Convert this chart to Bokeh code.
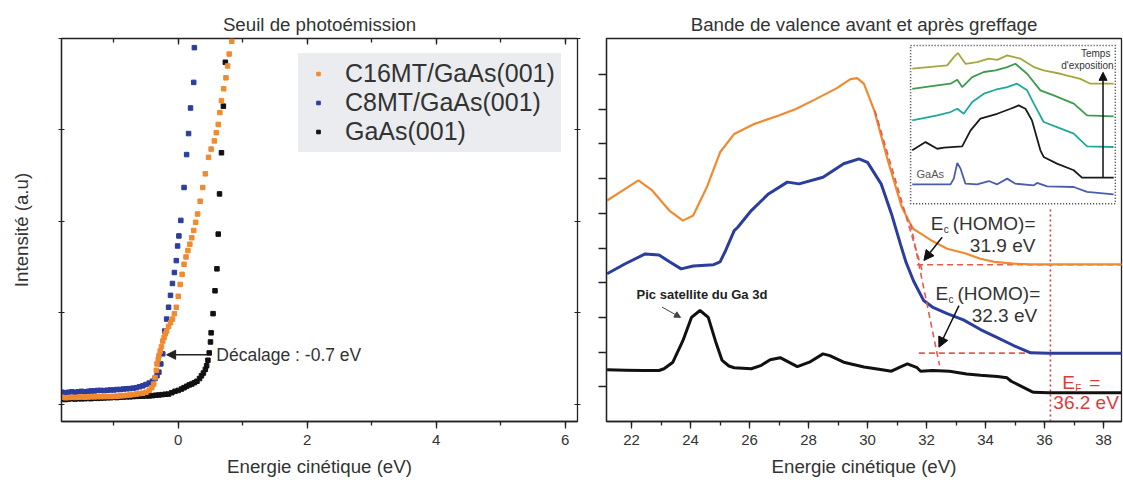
from bokeh.plotting import figure
from bokeh.layouts import row
from bokeh.models import (Range1d, LinearAxis, SingleIntervalTicker, FixedTicker, Legend,
                          LegendItem, Label, Arrow, NormalHead)
from bokeh.embed import file_html
from bokeh.resources import INLINE

FONT = "Liberation Sans"
TXT = "#333333"

# ---------------- Left panel data: photoemission threshold ----------------
gaas_x = [-1.80, -1.75, -1.70, -1.65, -1.60, -1.55, -1.50, -1.45, -1.40, -1.35, -1.30, -1.25,
          -1.20, -1.15, -1.10, -1.05, -1.00, -0.95, -0.90, -0.85, -0.80, -0.75, -0.70, -0.65,
          -0.60, -0.55, -0.50, -0.45, -0.40, -0.35, -0.30, -0.25, -0.20, -0.15, -0.10, -0.05,
          0.00, 0.05, 0.09, 0.13, 0.17, 0.21, 0.25, 0.29, 0.33, 0.36, 0.39, 0.42, 0.44, 0.46,
          0.48, 0.50, 0.51, 0.54, 0.57, 0.60, 0.62, 0.64, 0.67, 0.70, 0.73, 0.76]
gaas_y = [0.055, 0.050, 0.055, 0.060, 0.055, 0.060, 0.058, 0.060, 0.062, 0.060, 0.065, 0.063,
          0.066, 0.068, 0.070, 0.070, 0.074, 0.072, 0.076, 0.078, 0.080, 0.080, 0.083, 0.085,
          0.086, 0.088, 0.090, 0.090, 0.093, 0.097, 0.100, 0.104, 0.108, 0.110, 0.125, 0.140,
          0.150, 0.165, 0.180, 0.195, 0.210, 0.220, 0.235, 0.250, 0.280, 0.310, 0.340, 0.380,
          0.420, 0.480, 0.560, 0.680, 0.780, 0.990, 1.240, 1.480, 1.860, 2.300, 2.750, 3.260,
          3.740, 4.200]

c8_x = [-1.80, -1.75, -1.70, -1.65, -1.60, -1.55, -1.50, -1.45, -1.40, -1.35, -1.30, -1.25,
        -1.20, -1.15, -1.10, -1.05, -1.00, -0.95, -0.90, -0.85, -0.80, -0.75, -0.70, -0.65,
        -0.60, -0.55, -0.50, -0.45, -0.40, -0.36, -0.33, -0.30, -0.27, -0.24, -0.21, -0.18,
        -0.15, -0.12, -0.09, -0.06, -0.03, -0.01, 0.01, 0.04, 0.09, 0.13, 0.16, 0.19, 0.24,
        0.25, 0.29]
c8_y = [0.130, 0.125, 0.130, 0.135, 0.130, 0.135, 0.140, 0.135, 0.140, 0.145, 0.145, 0.150,
        0.150, 0.148, 0.152, 0.155, 0.155, 0.160, 0.160, 0.165, 0.168, 0.170, 0.175, 0.180,
        0.190, 0.200, 0.215, 0.230, 0.250, 0.280, 0.310, 0.350, 0.440, 0.550, 0.800, 0.930,
        1.060, 1.190, 1.320, 1.440, 1.570, 1.730, 1.840, 2.010, 2.370, 2.730, 2.960, 3.240,
        3.520, 3.900, 4.300]

c16_x = [-1.80, -1.75, -1.70, -1.65, -1.60, -1.55, -1.50, -1.45, -1.40, -1.35, -1.30, -1.25,
         -1.20, -1.15, -1.10, -1.05, -1.00, -0.95, -0.90, -0.85, -0.80, -0.75, -0.70, -0.65,
         -0.60, -0.55, -0.50, -0.45, -0.41, -0.38, -0.36, -0.34, -0.33, -0.31, -0.30, -0.28,
         -0.26, -0.24, -0.22, -0.20, -0.18, -0.15, -0.12, -0.09, -0.06, -0.03, 0.00, 0.03,
         0.06, 0.09, 0.12, 0.15, 0.18, 0.21, 0.24, 0.27, 0.30, 0.34, 0.38, 0.42, 0.47, 0.51,
         0.56, 0.59, 0.62, 0.645, 0.67, 0.705, 0.74, 0.765, 0.79, 0.83, 0.86]
c16_y = [0.075, 0.070, 0.072, 0.075, 0.073, 0.076, 0.078, 0.076, 0.078, 0.080, 0.080, 0.082,
         0.082, 0.083, 0.084, 0.084, 0.085, 0.087, 0.090, 0.093, 0.096, 0.100, 0.105, 0.110,
         0.115, 0.120, 0.130, 0.150, 0.180, 0.220, 0.290, 0.370, 0.440, 0.490, 0.530, 0.580,
         0.630, 0.690, 0.730, 0.770, 0.800, 0.850, 0.890, 0.930, 0.990, 1.060, 1.180, 1.310,
         1.420, 1.530, 1.610, 1.680, 1.750, 1.820, 1.900, 1.990, 2.080, 2.220, 2.370, 2.520,
         2.700, 2.790, 2.880, 2.970, 3.060, 3.190, 3.320, 3.450, 3.570, 3.700, 3.830, 3.970,
         4.100]

left_yticks = [0, 1, 2, 3, 4]
shift_arrow = dict(x_start=0.45, x_end=-0.18, y=0.54)
shift_text = dict(x=0.59, y=0.54, text="Décalage : -0.7 eV")

# ---------------- Right panel data: valence band ----------------
black_x = [21.17, 21.8, 22.4, 22.93, 23.1, 23.4, 23.74, 24.03, 24.32, 24.6, 24.84, 25.07, 25.3,
           25.48, 26.06, 26.4, 26.7, 27.04, 27.33, 27.62, 28.03, 28.49, 28.72, 29.19, 29.88,
           30.44, 30.81, 31.1, 31.35, 31.68, 31.8, 32.2, 32.78, 33.36, 33.83, 34.4, 34.73,
           34.87, 35.2, 35.57, 35.63, 36.14, 38.65]
black_y = [1.49, 1.48, 1.47, 1.47, 1.52, 1.71, 2.33, 3.0, 3.2, 3.0, 2.33, 1.76, 1.6,
           1.55, 1.52, 1.62, 1.78, 1.84, 1.71, 1.58, 1.71, 1.95, 1.9, 1.71, 1.57,
           1.5, 1.45, 1.57, 1.66, 1.55, 1.45, 1.47, 1.45, 1.37, 1.33, 1.3, 1.26,
           1.16, 1.02, 0.86, 0.84, 0.83, 0.83]

blue_x = [21.17, 21.77, 22.46, 22.93, 23.3, 23.68, 24.09, 24.78, 25.0, 25.19, 25.48, 25.6,
          26.06, 26.64, 27.28, 27.68, 28.49, 29.19, 29.71, 30.0, 30.46, 30.81, 31.12, 31.3,
          31.56, 31.9, 32.2, 32.7, 33.25, 33.83, 34.4, 34.95, 35.53, 36.14, 38.65]
blue_y = [4.26, 4.54, 4.83, 4.8, 4.6, 4.4, 4.48, 4.52, 4.6, 4.93, 5.5, 5.6,
          6.08, 6.56, 6.9, 6.85, 7.04, 7.43, 7.57, 7.47, 6.85, 5.99, 5.1, 4.6,
          4.05, 3.49, 3.3, 3.11, 2.93, 2.65, 2.42, 2.19, 1.98, 1.97, 1.97]

orange_x = [21.17, 21.77, 22.23, 22.7, 23.28, 23.74, 24.09, 24.55, 25.0, 25.48, 26.17, 26.99,
            27.57, 28.26, 28.96, 29.42, 29.65, 29.88, 30.23, 30.69, 31.16, 31.45, 31.56, 31.74,
            32.2, 32.7, 33.3, 33.83, 34.3, 34.95, 35.5, 38.65]
orange_y = [6.37, 6.7, 6.95, 6.66, 6.08, 5.79, 5.94, 6.75, 7.76, 8.29, 8.58, 8.82,
            9.01, 9.3, 9.61, 9.87, 9.9, 9.73, 8.96, 7.52, 6.18, 5.7, 5.55, 5.45,
            5.2, 4.98, 4.85, 4.69, 4.6, 4.55, 4.53, 4.53]

# tangents / baselines used to determine E_c(HOMO)
tan_c16_x = [30.25, 31.88]
tan_c16_y = [8.96, 4.27]
tan_c8_x = [31.46, 32.44]
tan_c8_y = [5.7, 1.62]
base_c16_x = [31.68, 38.61]
base_c16_y = [4.52, 4.52]
base_c8_x = [31.74, 38.61]
base_c8_y = [1.97, 1.97]
fermi_x = [36.2, 36.2]
fermi_y = [0.0, 6.17]
right_yticks = [1, 2, 3, 4, 5, 6, 7, 8, 9, 10]

# inset (exposure time series), normalised coordinates inside the inset box
ins_gaas_u = [0.008, 0.195, 0.211, 0.228, 0.244, 0.268, 0.325, 0.382, 0.423, 0.472, 0.512,
              0.602, 0.618, 0.667, 0.797, 0.862, 0.992]
ins_gaas_v = [0.122, 0.122, 0.158, 0.257, 0.221, 0.126, 0.122, 0.143, 0.122, 0.158, 0.126,
              0.116, 0.131, 0.109, 0.105, 0.074, 0.059]
ins_black_u = [0.008, 0.073, 0.130, 0.163, 0.252, 0.293, 0.341, 0.423, 0.488, 0.528, 0.561,
               0.593, 0.634, 0.650, 0.715, 0.797, 0.837, 0.992]
ins_black_v = [0.337, 0.389, 0.347, 0.354, 0.362, 0.463, 0.537, 0.568, 0.600, 0.621, 0.600,
               0.526, 0.337, 0.295, 0.253, 0.211, 0.164, 0.164]
ins_teal_u = [0.008, 0.130, 0.195, 0.228, 0.260, 0.301, 0.358, 0.415, 0.472, 0.520, 0.569,
              0.602, 0.650, 0.715, 0.797, 0.862, 0.992]
ins_teal_v = [0.526, 0.558, 0.579, 0.600, 0.568, 0.642, 0.695, 0.720, 0.737, 0.758, 0.716,
              0.632, 0.516, 0.484, 0.442, 0.362, 0.358]
ins_green_u = [0.008, 0.130, 0.195, 0.228, 0.252, 0.301, 0.358, 0.415, 0.472, 0.512, 0.569,
               0.634, 0.699, 0.797, 0.862, 0.992]
ins_green_v = [0.726, 0.747, 0.758, 0.783, 0.737, 0.800, 0.832, 0.842, 0.863, 0.884, 0.821,
               0.716, 0.684, 0.632, 0.558, 0.552]
ins_olive_u = [0.008, 0.179, 0.211, 0.231, 0.268, 0.325, 0.382, 0.423, 0.472, 0.537, 0.602,
               0.650, 0.732, 0.829, 0.878, 0.992]
ins_olive_v = [0.853, 0.874, 0.926, 0.952, 0.884, 0.895, 0.916, 0.909, 0.937, 0.916, 0.863,
               0.842, 0.821, 0.789, 0.758, 0.758]

# ---------------- layout constants ----------------
LX = (-1.81, 6.19)
LY = (-0.19, 4.0)
RX = (21.15, 38.61)
RY = (0.0, 11.04)
INSET = (31.46, 38.40, 6.28, 10.84)   # box of the inset in right-panel data units

ORANGE = "#f08a30"
BLUE = "#2b3d9d"
BLACK = "#111111"
RED_DASH = "#e8594d"
RED = "#de3b3b"
LEGEND_BG = "#eaecef"


def hide_labels(ax):
    ax.major_label_text_color = None
    ax.major_label_text_font_size = "0px"
    ax.major_label_standoff = 0


def style_common(p):
    p.grid.visible = False
    p.outline_line_color = "#222222"
    p.outline_line_width = 1.3
    p.background_fill_color = "white"
    p.border_fill_color = "white"
    p.title.align = "center"
    p.title.text_font = FONT
    p.title.text_font_size = "18.7px"
    p.title.text_font_style = "normal"
    p.title.text_color = TXT
    p.title.standoff = 8
    for ax in p.xaxis:
        ax.axis_label_text_font = FONT
        ax.axis_label_text_font_size = "18.7px"
        ax.axis_label_text_font_style = "normal"
        ax.axis_label_text_color = TXT
        ax.major_label_text_font = FONT
        ax.major_label_text_font_size = "15px"
        ax.major_label_text_color = TXT
        ax.axis_line_color = "#222222"
        ax.axis_line_width = 1.3
        ax.major_tick_line_color = "#222222"
        ax.minor_tick_line_color = "#222222"
        ax.major_tick_line_width = 1.3
        ax.minor_tick_line_width = 1.3
        ax.major_tick_in = 0
        ax.major_tick_out = 7
        ax.minor_tick_in = 0
        ax.minor_tick_out = 4
        ax.major_label_standoff = 6
        ax.axis_label_standoff = 8
        ax.ticker = SingleIntervalTicker(interval=2, num_minor_ticks=2)


# ================= Left figure =================
p1 = figure(width=594, height=484, output_backend="svg", toolbar_location=None,
            x_range=Range1d(*LX), y_range=Range1d(*LY),
            min_border_left=61, min_border_right=17, min_border_top=38, min_border_bottom=63,
            title="Seuil de photoémission")
p1.xaxis.axis_label = "Energie cinétique (eV)"
style_common(p1)

ya = p1.yaxis[0]
ya.ticker = FixedTicker(ticks=left_yticks)
hide_labels(ya)
ya.axis_label = "Intensité (a.u)"
ya.axis_label_text_font = FONT
ya.axis_label_text_font_size = "18.7px"
ya.axis_label_text_font_style = "normal"
ya.axis_label_text_color = TXT
ya.axis_label_standoff = 27
ya.axis_line_color = "#222222"
ya.axis_line_width = 1.3
ya.major_tick_in = 3
ya.major_tick_out = 3
ya.major_tick_line_color = "#222222"
ya.minor_tick_line_color = None

top_ax = LinearAxis(ticker=SingleIntervalTicker(interval=2, num_minor_ticks=2),
                    major_tick_in=6, major_tick_out=0, minor_tick_in=4, minor_tick_out=0,
                    axis_line_color=None, major_tick_line_color="#222222",
                    minor_tick_line_color="#222222", major_tick_line_width=1.3,
                    minor_tick_line_width=1.3)
hide_labels(top_ax)
p1.add_layout(top_ax, "above")
right_ax = LinearAxis(ticker=FixedTicker(ticks=left_yticks), major_tick_in=3, major_tick_out=3,
                      axis_line_color=None, major_tick_line_color="#222222",
                      minor_tick_line_color=None)
hide_labels(right_ax)
p1.add_layout(right_ax, "right")

r_gaas = p1.scatter(gaas_x, gaas_y, marker="square", size=4.5, color=BLACK)
r_c8 = p1.scatter(c8_x, c8_y, marker="square", size=4.5, color=BLUE)
r_c16 = p1.scatter(c16_x, c16_y, marker="square", size=4.5, color=ORANGE)

legend = Legend(items=[LegendItem(label="C16MT/GaAs(001)", renderers=[r_c16]),
                       LegendItem(label="C8MT/GaAs(001)", renderers=[r_c8]),
                       LegendItem(label="GaAs(001)", renderers=[r_gaas])],
                location=(237, 269), label_text_font=FONT, label_text_font_size="25px",
                label_text_color=TXT, background_fill_color=LEGEND_BG, background_fill_alpha=1,
                border_line_color=LEGEND_BG, border_line_width=1, padding=5, spacing=0,
                margin=0, glyph_width=28, glyph_height=9, label_standoff=13, label_height=27)
p1.add_layout(legend)

p1.add_layout(Arrow(end=NormalHead(size=9, fill_color="#222222", line_color="#222222"),
                    x_start=shift_arrow["x_start"], y_start=shift_arrow["y"],
                    x_end=shift_arrow["x_end"], y_end=shift_arrow["y"],
                    line_color="#222222", line_width=1.5))
p1.add_layout(Label(x=shift_text["x"], y=shift_text["y"], text=shift_text["text"],
                    text_font=FONT, text_font_size="17.5px", text_color=TXT,
                    text_baseline="middle", text_align="left"))

# ================= Right figure =================
p2 = figure(width=529, height=484, output_backend="svg", toolbar_location=None,
            x_range=Range1d(*RX), y_range=Range1d(*RY),
            min_border_left=12, min_border_right=2, min_border_top=38, min_border_bottom=63,
            title="Bande de valence avant et après greffage")
p2.xaxis.axis_label = "Energie cinétique (eV)"
style_common(p2)
yb = p2.yaxis[0]
yb.ticker = FixedTicker(ticks=right_yticks)
hide_labels(yb)
yb.major_tick_in = 0
yb.major_tick_out = 8
yb.major_tick_line_color = "#222222"
yb.major_tick_line_width = 1.3
yb.minor_tick_line_color = None
yb.axis_line_color = "#222222"
yb.axis_line_width = 1.3

# baselines (dashed) under the curves
p2.line(base_c16_x, base_c16_y, line_color=RED_DASH, line_dash="6 4", line_width=1.6)
p2.line(base_c8_x, base_c8_y, line_color=RED_DASH, line_dash="6 4", line_width=1.6)
p2.line(fermi_x, fermi_y, line_color=RED, line_dash="2 3", line_width=1.6)

p2.line(black_x, black_y, line_color=BLACK, line_width=3)
p2.line(blue_x, blue_y, line_color=BLUE, line_width=3)
p2.line(orange_x, orange_y, line_color=ORANGE, line_width=2.2)

p2.line(tan_c16_x, tan_c16_y, line_color=RED_DASH, line_dash="6 4", line_width=1.6)
p2.line(tan_c8_x, tan_c8_y, line_color=RED_DASH, line_dash="6 4", line_width=1.6)

# inset with its own scales
ix0, ix1, iy0, iy1 = INSET
p2.extra_x_ranges = {"inset": Range1d((RX[0] - ix0) / (ix1 - ix0), (RX[1] - ix0) / (ix1 - ix0))}
p2.extra_y_ranges = {"inset": Range1d((RY[0] - iy0) / (iy1 - iy0), (RY[1] - iy0) / (iy1 - iy0))}
p2.quad(left=[0], right=[1], bottom=[0], top=[1], x_range_name="inset", y_range_name="inset",
        fill_color="white", line_color="#333333", line_dash="1 2", line_width=1.5)
for u, v, c in [(ins_gaas_u, ins_gaas_v, "#4a5cb0"), (ins_black_u, ins_black_v, "#1a1a1a"),
                (ins_teal_u, ins_teal_v, "#1fa99b"), (ins_green_u, ins_green_v, "#3e9a4c"),
                (ins_olive_u, ins_olive_v, "#a6a63c")]:
    p2.line(u, v, line_color=c, line_width=1.8, x_range_name="inset", y_range_name="inset")
p2.add_layout(Arrow(end=NormalHead(size=8, fill_color="#111111", line_color="#111111"),
                    x_start=0.94, y_start=0.168, x_end=0.94, y_end=0.83,
                    line_color="#111111", line_width=1.5,
                    x_range_name="inset", y_range_name="inset"))
p2.add_layout(Label(x=0.976, y=0.947, text="Temps", text_align="right", text_baseline="middle",
                    text_font=FONT, text_font_size="10px", text_color=TXT,
                    x_range_name="inset", y_range_name="inset"))
p2.add_layout(Label(x=0.992, y=0.874, text="d'exposition", text_align="right",
                    text_baseline="middle", text_font=FONT, text_font_size="10px",
                    text_color=TXT, x_range_name="inset", y_range_name="inset"))
p2.add_layout(Label(x=0.029, y=0.185, text="GaAs", text_align="left", text_baseline="middle",
                    text_font=FONT, text_font_size="11px", text_color="#555555",
                    x_range_name="inset", y_range_name="inset"))


def homo_label(x, y, value_x, value_y, value_text):
    p2.add_layout(Label(x=x, y=y, text="E", text_font=FONT, text_font_size="19px",
                        text_color=TXT, text_baseline="middle"))
    p2.add_layout(Label(x=x, y=y, text="c", x_offset=13, y_offset=-6, text_font=FONT,
                        text_font_size="10px", text_color=TXT, text_baseline="middle"))
    p2.add_layout(Label(x=x, y=y, text="(HOMO)=", x_offset=22, text_font=FONT,
                        text_font_size="19px", text_color=TXT, text_baseline="middle"))
    p2.add_layout(Label(x=value_x, y=value_y, text=value_text, text_font=FONT,
                        text_font_size="19px", text_color=TXT, text_baseline="middle",
                        text_align="right"))


homo_label(32.14, 5.70, 35.69, 5.07, "31.9 eV")
homo_label(32.30, 3.68, 35.75, 3.05, "32.3 eV")

for xs, ys, xe, ye in [(32.53, 5.31, 31.91, 4.64), (33.10, 3.34, 32.42, 2.14)]:
    p2.add_layout(Arrow(end=NormalHead(size=10, fill_color="#111111", line_color="#111111"),
                        x_start=xs, y_start=ys, x_end=xe, y_end=ye,
                        line_color="#111111", line_width=1.5))

p2.add_layout(Label(x=36.6, y=1.13, text="E", text_font=FONT, text_font_size="19px",
                    text_color=RED, text_baseline="middle"))
p2.add_layout(Label(x=36.6, y=1.13, text="F", x_offset=13, y_offset=-6, text_font=FONT,
                    text_font_size="10px", text_color=RED, text_baseline="middle"))
p2.add_layout(Label(x=36.6, y=1.13, text="=", x_offset=27, text_font=FONT,
                    text_font_size="19px", text_color=RED, text_baseline="middle"))
p2.add_layout(Label(x=36.3, y=0.56, text="36.2 eV", text_font=FONT, text_font_size="19px",
                    text_color=RED, text_baseline="middle"))

p2.add_layout(Label(x=22.17, y=3.66, text="Pic satellite du Ga 3d", text_font=FONT,
                    text_font_size="13px", text_font_style="bold", text_color="#222222",
                    text_baseline="middle"))
p2.add_layout(Arrow(end=NormalHead(size=6, fill_color="#444444", line_color="#444444"),
                    x_start=23.03, y_start=3.3, x_end=23.66, y_end=3.0,
                    line_color="#444444", line_width=1))

layout = row(p1, p2, spacing=0)
open("out.html", "w").write(file_html(layout, INLINE))
